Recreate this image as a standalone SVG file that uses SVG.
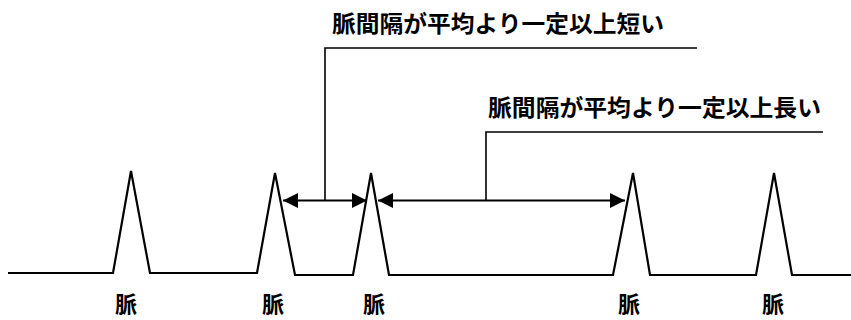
<svg xmlns="http://www.w3.org/2000/svg" width="851" height="320" viewBox="0 0 851 320">
<style>
.wave{fill:none;stroke:#000;stroke-width:2.2;stroke-linejoin:miter}
.arr{fill:none;stroke:#000;stroke-width:2}
.lead{fill:none;stroke:#000;stroke-width:1.6}
.lbl{font-family:"Noto Sans CJK JP","Noto Sans CJK SC",sans-serif;font-weight:bold;font-size:23px;fill:#000}
.pl{font-family:"Noto Sans CJK JP","Noto Sans CJK SC",sans-serif;font-weight:bold;font-size:22px;fill:#000;text-anchor:middle}
</style>
<defs>
<marker id="ah" viewBox="0 0 15 15" refX="15" refY="7.5" markerWidth="15" markerHeight="15" markerUnits="userSpaceOnUse" orient="auto-start-reverse">
<path d="M0,0 L15,7.5 L0,15 Z" fill="#000"/>
</marker>
</defs>
<rect width="851" height="320" fill="#fff"/>
<g id="waveform">
<polyline class="wave" points="8,273 113,273 131,171 150,273 257,273 275,173 295,275 353,275 371,173 389,275 613,275 633,173 650,275 756,275 774,173 792,275 851,275"/>
</g>
<g id="connectors">
<line class="arr" x1="283" y1="200.5" x2="367" y2="200.5" marker-start="url(#ah)" marker-end="url(#ah)"/>
<line class="arr" x1="378" y1="200.5" x2="625" y2="200.5" marker-start="url(#ah)" marker-end="url(#ah)"/>
<polyline class="lead" points="325,200 325,48 697,48"/>
<polyline class="lead" points="486,200 486,132 823,132"/>
</g>
<g id="label-short">
<text class="lbl" x="332" y="32" textLength="332" lengthAdjust="spacingAndGlyphs">脈間隔が平均より一定以上短い</text>
</g>
<g id="label-long">
<text class="lbl" x="488" y="116" textLength="333" lengthAdjust="spacingAndGlyphs">脈間隔が平均より一定以上長い</text>
</g>
<g id="pulse-labels">
<text class="pl" x="126" y="312">脈</text>
<text class="pl" x="273" y="312">脈</text>
<text class="pl" x="374" y="312">脈</text>
<text class="pl" x="629" y="312">脈</text>
<text class="pl" x="773" y="312">脈</text>
</g>
</svg>
